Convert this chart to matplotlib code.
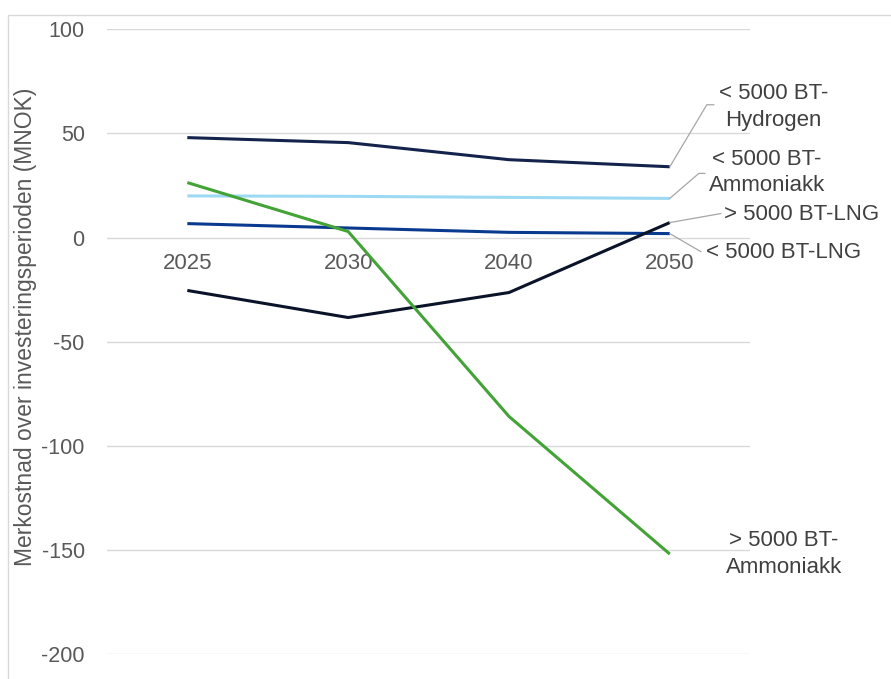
import matplotlib.pyplot as plt
from matplotlib.lines import Line2D

plt.rcParams['font.family'] = ['Liberation Sans', 'DejaVu Sans']
plt.rcParams['axes.unicode_minus'] = False

years = ['2025', '2030', '2040', '2050']

hydrogen_small = [48.0, 45.6, 37.4, 34.0]
ammoniakk_small = [20.0, 19.8, 19.3, 18.8]
lng_small = [6.7, 4.6, 2.5, 1.9]
lng_large = [-25.4, -38.4, -26.4, 7.2]
ammoniakk_large = [26.4, 2.9, -85.9, -152.0]

series = [
    ('< 5000 BT-\nHydrogen', hydrogen_small, '#14234b'),
    ('< 5000 BT-\nAmmoniakk', ammoniakk_small, '#9dd9f3'),
    ('< 5000 BT-LNG', lng_small, '#0a3a8f'),
    ('> 5000 BT-LNG', lng_large, '#0b1329'),
    ('> 5000 BT-\nAmmoniakk', ammoniakk_large, '#43a337'),
]

# leader line points and text position, in pixels relative to the 2050 point (y up)
labels = {
    '< 5000 BT-\nHydrogen': ([(37, 62), (44, 62)], (104, 60), 'center'),
    '< 5000 BT-\nAmmoniakk': ([(29, 25), (35, 25)], (97, 26), 'center'),
    '> 5000 BT-LNG': ([(51, 9)], (54, 8), 'left'),
    '< 5000 BT-LNG': ([(31, -18)], (36, -19), 'left'),
    '> 5000 BT-\nAmmoniakk': ([], (114, 0), 'center'),
}

fig = plt.figure(figsize=(8.91, 6.79), dpi=100)
# chart frame: only top and left edges fall inside the image
fig.add_artist(Line2D([8, 8, 891], [0, 664, 664], transform=None,
                      color='#d9d9d9', lw=1))
ax = fig.add_axes([0.120, 0.0368, 0.722, 0.920])

x = range(len(years))
for name, vals, color in series:
    ax.plot(x, vals, color=color, lw=2.2, solid_capstyle='butt')

ax.set_xlim(-0.5, 3.5)
ax.set_ylim(-200, 100)
ax.set_yticks(range(-200, 101, 50))
ax.set_xticks(list(x))
ax.set_xticklabels(years)
ax.yaxis.grid(True, color='#d9d9d9', lw=1)
ax.set_axisbelow(True)
for s in ['top', 'right', 'left']:
    ax.spines[s].set_visible(False)
ax.spines['bottom'].set_position(('data', 0))
ax.spines['bottom'].set_visible(False)
ax.tick_params(axis='both', length=0, colors='#595959')
ax.tick_params(axis='x', pad=11, labelsize=16)
ax.tick_params(axis='y', pad=16, labelsize=15.5)
ax.set_ylabel('Merkostnad over investeringsperioden (MNOK)', fontsize=16.5,
              color='#595959')
ax.yaxis.set_label_coords(-0.108, 0.523)

for name, vals, color in series:
    pts, txt, ha = labels[name]
    x0, y0 = ax.transData.transform((3, vals[-1]))
    xs = [x0] + [x0 + p[0] for p in pts]
    ys = [y0] + [y0 + p[1] for p in pts]
    if pts:
        fig.add_artist(Line2D(xs, ys, transform=None, color='#a6a6a6', lw=0.9))
    ax.annotate(name, xy=(3, vals[-1]), xytext=txt, textcoords='offset pixels',
                ha=ha, va='center', fontsize=16, color='#404040',
                multialignment='center', linespacing=1.35)

fig.savefig('out.png', dpi=100)
